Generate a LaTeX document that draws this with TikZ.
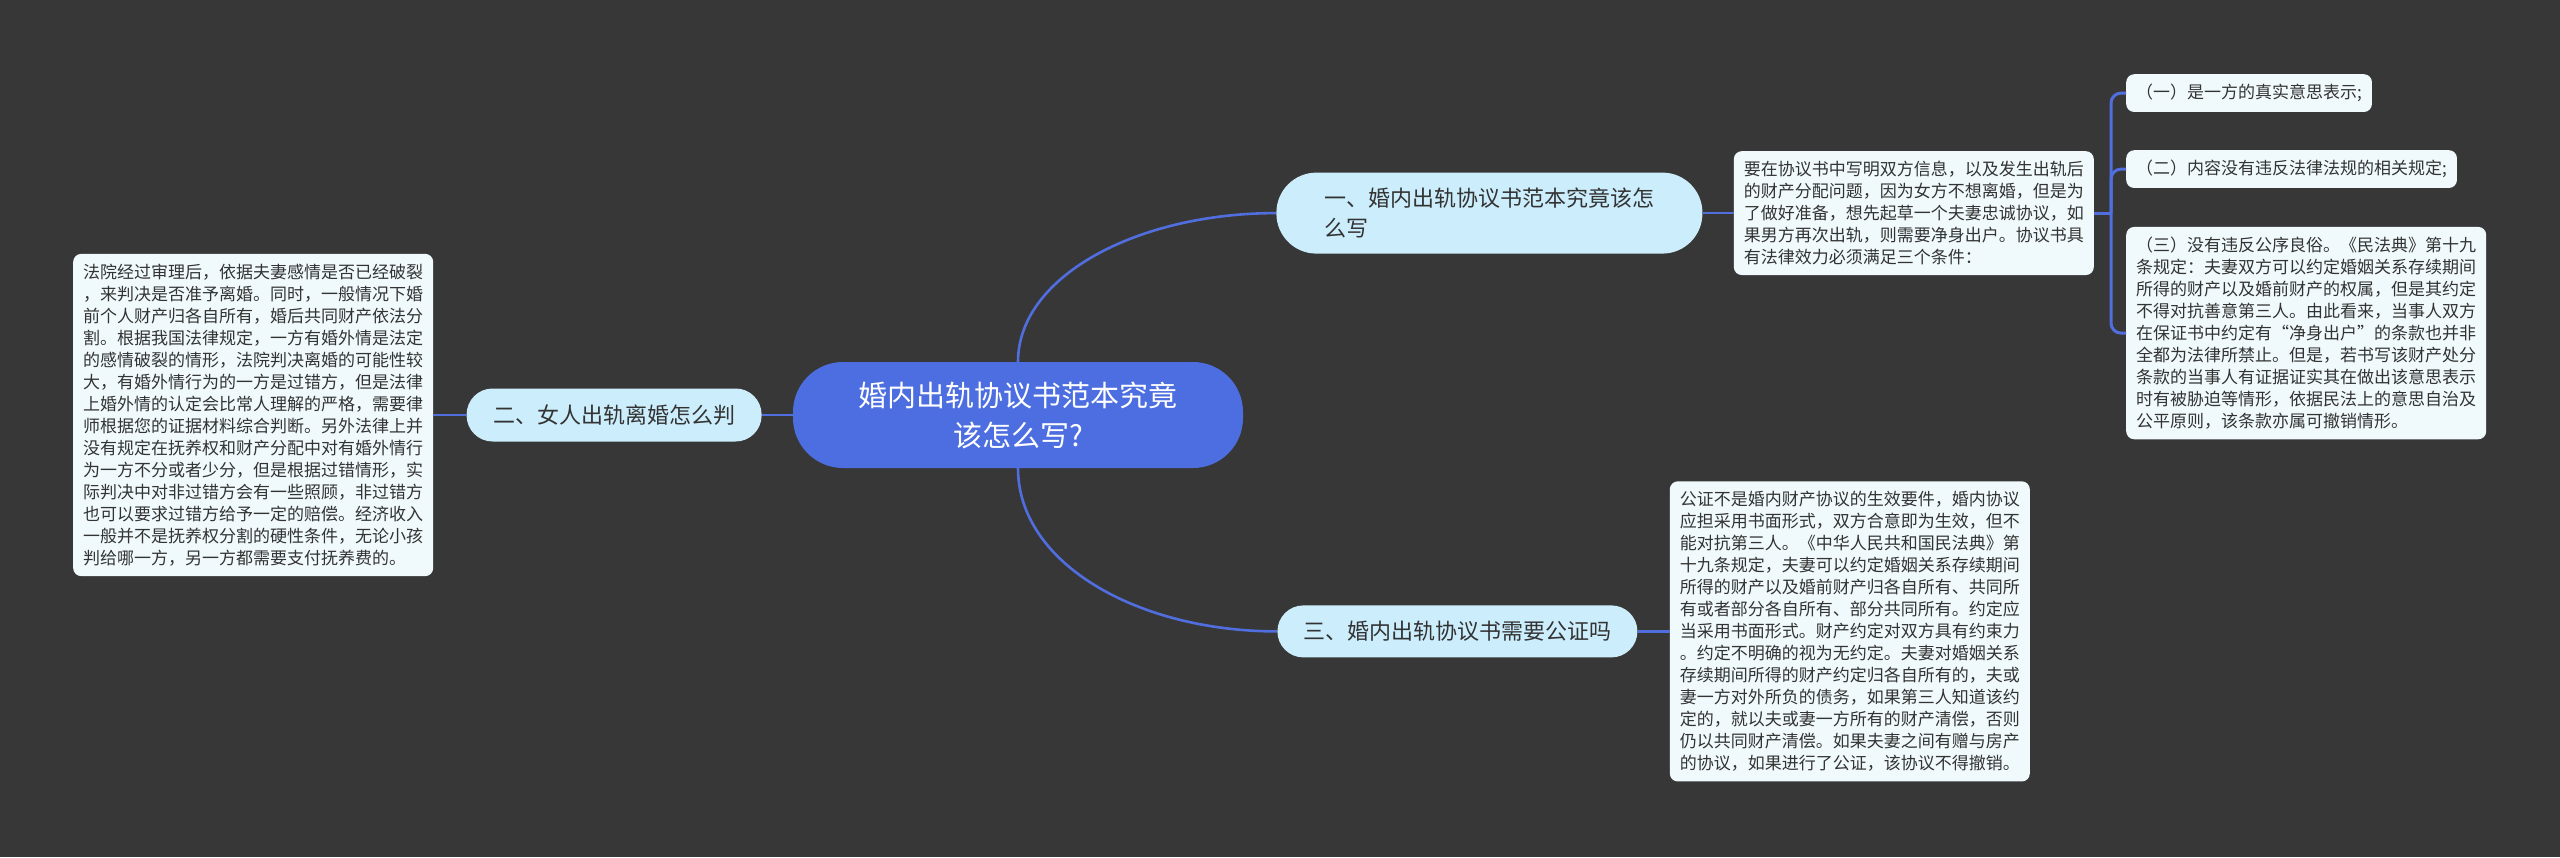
\documentclass[tikz,border=0pt]{standalone}
\usepackage{fontspec}
\setmainfont{Noto Sans CJK SC}
\usepackage{xcolor}
\usepackage{tikz}
\usetikzlibrary{positioning}

\definecolor{bgdark}{RGB}{56,55,55}
\definecolor{rootblue}{RGB}{77,110,224}
\definecolor{linkblue}{RGB}{80,110,222}
\definecolor{branchfill}{RGB}{204,238,252}
\definecolor{leaffill}{RGB}{240,250,252}
\definecolor{ink}{RGB}{51,51,51}

\begin{document}
\begin{tikzpicture}[
    x=1pt, y=1pt,
    root/.style={fill=rootblue, text=white, rounded corners=50pt, minimum width=450pt, minimum height=106pt, align=center, font=\fontsize{29pt}{40pt}\selectfont},
    branch/.style={fill=branchfill, text=ink, rounded corners=26pt, minimum height=53pt, inner xsep=26pt, align=left, font=\fontsize{22pt}{30pt}\selectfont},
    leaf/.style={fill=leaffill, text=ink, rounded corners=8pt, inner xsep=10pt, inner ysep=10pt, align=left, font=\fontsize{17pt}{22pt}\selectfont},
    link/.style={draw=linkblue, line width=2.6pt},
    bracket/.style={link, line width=3pt, rounded corners=10pt},
]

% Background and frame
\fill[bgdark] (0,0) rectangle (2560,-857);
\useasboundingbox (0,0) rectangle (2560,-857);

% Central topic
\node[root] (root) at (1018,-415) {婚内出轨协议书范本究竟\\该怎么写?};

% Main branches
\node[branch, rounded corners=40pt, minimum width=426pt, minimum height=81pt, above right=108pt and 33pt of root] (q1) {一、婚内出轨协议书范本究竟该怎\\么写};
\node[branch, minimum width=295pt, left=31pt of root] (q2) {二、女人出轨离婚怎么判};
\node[branch, minimum width=360pt, minimum height=52pt, below right=137pt and 34pt of root] (q3) {三、婚内出轨协议书需要公证吗};

% Answer texts
\node[leaf, right=31pt of q1] (ans1) {要在协议书中写明双方信息，以及发生出轨后\\的财产分配问题，因为女方不想离婚，但是为\\了做好准备，想先起草一个夫妻忠诚协议，如\\果男方再次出轨，则需要净身出户。协议书具\\有法律效力必须满足三个条件：};

\node[leaf, left=33pt of q2] (ans2) {法院经过审理后，依据夫妻感情是否已经破裂\\，来判决是否准予离婚。同时，一般情况下婚\\前个人财产归各自所有，婚后共同财产依法分\\割。根据我国法律规定，一方有婚外情是法定\\的感情破裂的情形，法院判决离婚的可能性较\\大，有婚外情行为的一方是过错方，但是法律\\上婚外情的认定会比常人理解的严格，需要律\\师根据您的证据材料综合判断。另外法律上并\\没有规定在抚养权和财产分配中对有婚外情行\\为一方不分或者少分，但是根据过错情形，实\\际判决中对非过错方会有一些照顾，非过错方\\也可以要求过错方给予一定的赔偿。经济收入\\一般并不是抚养权分割的硬性条件，无论小孩\\判给哪一方，另一方都需要支付抚养费的。};

\node[leaf, right=32pt of q3] (ans3) {公证不是婚内财产协议的生效要件，婚内协议\\应担采用书面形式，双方合意即为生效，但不\\能对抗第三人。《中华人民共和国民法典》第\\十九条规定，夫妻可以约定婚姻关系存续期间\\所得的财产以及婚前财产归各自所有、共同所\\有或者部分各自所有、部分共同所有。约定应\\当采用书面形式。财产约定对双方具有约束力\\。约定不明确的视为无约定。夫妻对婚姻关系\\存续期间所得的财产约定归各自所有的，夫或\\妻一方对外所负的债务，如果第三人知道该约\\定的，就以夫或妻一方所有的财产清偿，否则\\仍以共同财产清偿。如果夫妻之间有赠与房产\\的协议，如果进行了公证，该协议不得撤销。};

% Three conditions
\node[leaf, right=32pt of ans1, yshift=120pt] (cond1) {（一）是一方的真实意思表示;};
\node[leaf, right=32pt of ans1, yshift=44pt] (cond2) {（二）内容没有违反法律法规的相关规定;};
\node[leaf, right=32pt of ans1, yshift=-120pt] (cond3) {（三）没有违反公序良俗。《民法典》第十九\\条规定：夫妻双方可以约定婚姻关系存续期间\\所得的财产以及婚前财产的权属，但是其约定\\不得对抗善意第三人。由此看来，当事人双方\\在保证书中约定有“净身出户”的条款也并非\\全都为法律所禁止。但是，若书写该财产处分\\条款的当事人有证据证实其在做出该意思表示\\时有被胁迫等情形，依据民法上的意思自治及\\公平原则，该条款亦属可撤销情形。};

% Links: root -> branches
\draw[link] (root.north) .. controls +(0,85) and +(-140,0) .. (q1.west);
\draw[link] (root.south) .. controls +(0,-95) and +(-140,0) .. (q3.west);
\draw[link] (root.west) -- (q2.east);

% Links: branches -> answers
\draw[link] (q1.east) -- (ans1.west);
\draw[link] (q2.west) -- (ans2.east);
\draw[link] (q3.east) -- (ans3.west);

% Links: answer -> conditions
\coordinate[right=17pt of ans1] (hub);
\draw[link, line width=3pt] (ans1.east) -- (hub);
\draw[bracket] (hub) |- (cond1.west);
\draw[bracket] (hub) |- (cond2.west);
\draw[bracket] (hub) |- (cond3.west);

\end{tikzpicture}
\end{document}
